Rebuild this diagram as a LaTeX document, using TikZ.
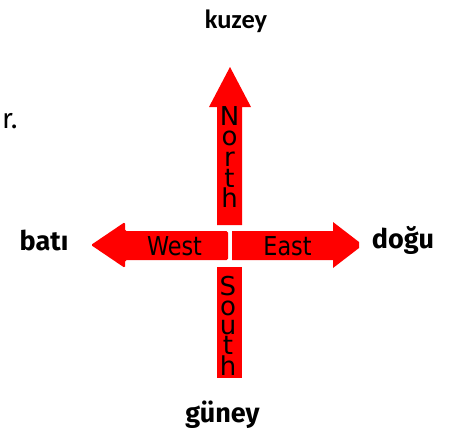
\documentclass[tikz,border=0pt]{standalone}
\usepackage{fontspec}
\newfontfamily\arrowfont{DejaVu Sans}
\newfontfamily\labelfont{Fira Sans}
\newfontfamily\kfont{Carlito}
\definecolor{arrowred}{RGB}{255,0,0}
\begin{document}
\begin{tikzpicture}[x=1pt,y=-1pt,
  arrowbody/.style={fill=arrowred, draw=none},
  vlabel/.style={inner sep=0pt, align=center, font=\arrowfont\fontsize{26}{20.7}\selectfont},
  hlabel/.style={inner sep=0pt, anchor=base, font=\arrowfont\fontsize{26}{26}\selectfont},
  dirlabel/.style={inner sep=0pt, anchor=base, font=\labelfont\bfseries\fontsize{27}{27}\selectfont},
  toplabel/.style={inner sep=0pt, anchor=base, font=\kfont\bfseries\fontsize{26.5}{26.5}\selectfont}]
\useasboundingbox (0,0) rectangle (453,432);
\fill[white] (0,0) rectangle (453,432);
% North arrow
\fill[arrowbody] (217,225) -- (217,107) -- (209,107) -- (230,67) -- (251,107) -- (242,107) -- (242,225) -- cycle;
% West arrow
\fill[arrowbody, rounded corners=1.5pt] (228,231) -- (125,231) -- (125,222) -- (91,245) -- (125,268) -- (125,260) -- (228,260) -- cycle;
% East arrow
\fill[arrowbody] (232,231) -- (333,231) -- (333,222) -- (359,242) -- (359,248) -- (333,268) -- (333,260) -- (232,260) -- cycle;
% South shaft
\fill[arrowbody] (217,267) rectangle (242,378);
% arrow texts
\node[vlabel, anchor=north] (northtext) at (229.5,106) {N\\o\\r\\t\\h};
\node[hlabel] (westtext) at (174.5,255) {\scalebox{0.86}[1]{West}};
\node[hlabel] (easttext) at (287.5,255) {\scalebox{0.86}[1]{East}};
\begin{scope}
  \clip (217,267) rectangle (242,378);
  \node[vlabel, anchor=north, font=\arrowfont\fontsize{26}{19.7}\selectfont] (southtext) at (228,276) {S\\o\\u\\t\\h};
\end{scope}
% direction labels
\node[toplabel] (kuzey) at (236,28) {kuzey};
\node[dirlabel] (bati) at (44,250) {batı};
\node[dirlabel] (dogu) at (403,248) {doğu};
\node[dirlabel] (guney) at (222.5,422) {güney};
\node[inner sep=0pt, anchor=base west, font=\labelfont\fontsize{28}{28}\selectfont] (rdot) at (2,128) {r.};
\end{tikzpicture}
\end{document}
